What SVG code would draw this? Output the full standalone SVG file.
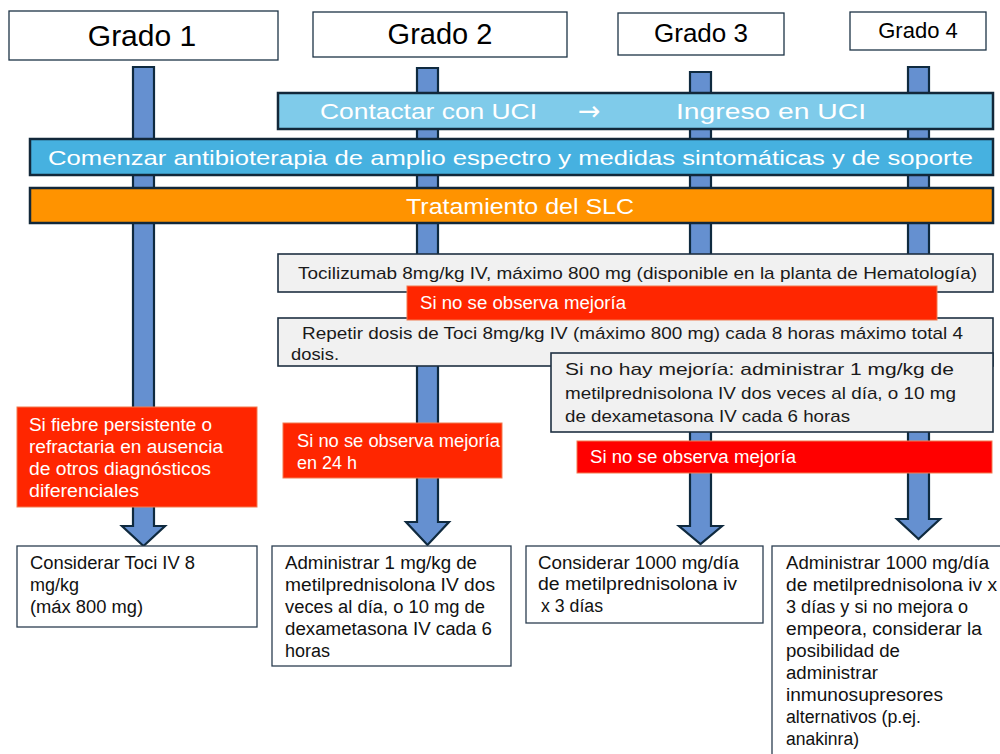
<svg xmlns="http://www.w3.org/2000/svg" width="1000" height="754" viewBox="0 0 1000 754">
  <style>
    text { font-family: "Liberation Sans", Arial, sans-serif; }
    .hdr { fill: #ffffff; stroke: #1d3346; stroke-width: 1.3; }
    .hdrt { fill: #000000; text-anchor: middle; }
    .bar { stroke: #12283a; stroke-width: 2.5; }
    .wt { fill: #ffffff; }
    .grey { fill: #f1f1f1; stroke: #1e3042; stroke-width: 1.6; }
    .dk { fill: #1a1a1a; font-size: 17px; }
    .red { fill: #ff2600; stroke: #f27a50; stroke-width: 1; }
    .redt { fill: #ffffff; font-size: 18px; }
    .out { fill: #ffffff; stroke: #2c3e50; stroke-width: 1.3; }
    .outt { fill: #111111; font-size: 18px; }
    .arrow { fill: #6590d0; stroke: #0f2a3f; stroke-width: 2.2; stroke-linejoin: miter; }
  </style>

  <!-- Block arrows running down each grade column -->
  <g id="connectors">
    <path class="arrow" d="M133,67 H154 V526 H165 L143.5,546 L122,526 H133 Z"/>
    <path class="arrow" d="M417,68 H438 V522 H449 L427.5,545 L406,522 H417 Z"/>
    <path class="arrow" d="M690,72 H711 V526 H722 L700.5,544 L679,526 H690 Z"/>
    <path class="arrow" d="M908,67 H929 V519 H940 L918.5,539 L897,519 H908 Z"/>
  </g>

  <!-- Grade headers -->
  <g id="grado1">
    <rect class="hdr" x="9" y="11" width="269" height="49"/>
    <text class="hdrt" x="142" y="46" font-size="30">Grado 1</text>
  </g>
  <g id="grado2">
    <rect class="hdr" x="313" y="12" width="254" height="45"/>
    <text class="hdrt" x="440" y="44" font-size="29">Grado 2</text>
  </g>
  <g id="grado3">
    <rect class="hdr" x="618" y="13" width="166" height="42"/>
    <text class="hdrt" x="701" y="42" font-size="26">Grado 3</text>
  </g>
  <g id="grado4">
    <rect class="hdr" x="850" y="12" width="136" height="38"/>
    <text class="hdrt" x="918" y="38" font-size="22">Grado 4</text>
  </g>

  <!-- Horizontal measure bars -->
  <g id="uci">
    <rect class="bar" x="278" y="93" width="715" height="36" fill="#7fcbea"/>
    <text class="wt" x="320" y="119" font-size="22" textLength="217" lengthAdjust="spacingAndGlyphs">Contactar con  UCI</text>
    <text class="wt" x="578" y="120" font-size="27" style="font-family: 'DejaVu Sans', sans-serif">→</text>
    <text class="wt" x="676" y="119" font-size="22" textLength="190" lengthAdjust="spacingAndGlyphs">Ingreso  en UCI</text>
  </g>
  <g id="antibioterapia">
    <rect class="bar" x="30" y="139" width="963" height="36" fill="#46b1e0"/>
    <text class="wt" x="48" y="165" font-size="21" textLength="925" lengthAdjust="spacingAndGlyphs">Comenzar antibioterapia de amplio espectro y medidas sintomáticas y de soporte</text>
  </g>
  <g id="tratamiento">
    <rect class="bar" x="30" y="188" width="963" height="35" fill="#ff9300"/>
    <text class="wt" x="406" y="214" font-size="22" textLength="228" lengthAdjust="spacingAndGlyphs">Tratamiento del SLC</text>
  </g>

  <!-- Tocilizumab sequence -->
  <g id="tocilizumab">
    <rect class="grey" x="278" y="254" width="715" height="38"/>
    <text class="dk" x="298" y="279" textLength="679" lengthAdjust="spacingAndGlyphs">Tocilizumab 8mg/kg IV, máximo 800 mg (disponible en la planta de Hematología)</text>
  </g>
  <g id="repetir">
    <rect class="grey" x="278" y="318" width="715" height="48"/>
    <text class="dk" x="302" y="339" textLength="661" lengthAdjust="spacingAndGlyphs">Repetir dosis de Toci 8mg/kg IV (máximo 800 mg) cada 8 horas máximo total  4</text>
    <text class="dk" x="291" y="360" textLength="48" lengthAdjust="spacingAndGlyphs">dosis.</text>
  </g>
  <g id="mejoria-toci">
    <rect class="red" x="407" y="286" width="530" height="34"/>
    <text class="redt" x="420" y="309" font-size="17" textLength="206" lengthAdjust="spacingAndGlyphs">Si no se observa mejoría</text>
  </g>
  <g id="corticoides">
    <rect class="grey" x="551" y="353" width="442" height="79"/>
    <text class="dk" x="565" y="375" textLength="389" lengthAdjust="spacingAndGlyphs">Si no hay mejoría: administrar 1 mg/kg de</text>
    <text class="dk" x="565" y="399" textLength="391" lengthAdjust="spacingAndGlyphs">metilprednisolona IV dos veces al día, o 10 mg</text>
    <text class="dk" x="565" y="422" textLength="285" lengthAdjust="spacingAndGlyphs">de dexametasona IV cada 6 horas</text>
  </g>

  <!-- Conditions -->
  <g id="cond-g1">
    <rect class="red" x="17" y="407" width="240" height="100"/>
    <text class="redt" x="29" y="431" textLength="183" lengthAdjust="spacingAndGlyphs">Si fiebre persistente o</text>
    <text class="redt" x="29" y="453" textLength="194" lengthAdjust="spacingAndGlyphs">refractaria en ausencia</text>
    <text class="redt" x="29" y="475" textLength="182" lengthAdjust="spacingAndGlyphs">de otros diagnósticos</text>
    <text class="redt" x="29" y="497" textLength="110" lengthAdjust="spacingAndGlyphs">diferenciales</text>
  </g>
  <g id="cond-g2">
    <rect class="red" x="283" y="423" width="219" height="55"/>
    <text class="redt" x="297" y="447" textLength="203" lengthAdjust="spacingAndGlyphs">Si no se observa mejoría</text>
    <text class="redt" x="297" y="469">en 24 h</text>
  </g>
  <g id="cond-g34">
    <rect x="577" y="441" width="415" height="32" fill="#ff0000" stroke="#f27a50" stroke-width="1"/>
    <text class="redt" x="590" y="463" textLength="206" lengthAdjust="spacingAndGlyphs">Si no se observa mejoría</text>
  </g>

  <!-- Final actions per grade -->
  <g id="accion-g1">
    <rect class="out" x="17" y="546" width="240" height="81"/>
    <text class="outt" x="30" y="569" textLength="165" lengthAdjust="spacingAndGlyphs">Considerar Toci IV 8</text>
    <text class="outt" x="30" y="591">mg/kg</text>
    <text class="outt" x="30" y="613" textLength="113" lengthAdjust="spacingAndGlyphs">(máx 800 mg)</text>
  </g>
  <g id="accion-g2">
    <rect class="out" x="272" y="546" width="239" height="120"/>
    <text class="outt" x="285" y="569" textLength="192" lengthAdjust="spacingAndGlyphs">Administrar 1 mg/kg de</text>
    <text class="outt" x="285" y="591" textLength="210" lengthAdjust="spacingAndGlyphs">metilprednisolona IV dos</text>
    <text class="outt" x="285" y="613" textLength="200" lengthAdjust="spacingAndGlyphs">veces al día, o 10 mg de</text>
    <text class="outt" x="285" y="635" textLength="207" lengthAdjust="spacingAndGlyphs">dexametasona IV cada 6</text>
    <text class="outt" x="285" y="657">horas</text>
  </g>
  <g id="accion-g3">
    <rect class="out" x="526" y="546" width="237" height="77"/>
    <text class="outt" x="538" y="569" textLength="201" lengthAdjust="spacingAndGlyphs">Considerar 1000 mg/día</text>
    <text class="outt" x="538" y="590" textLength="199" lengthAdjust="spacingAndGlyphs">de metilprednisolona iv</text>
    <text class="outt" x="541" y="612" textLength="62" lengthAdjust="spacingAndGlyphs">x 3 días</text>
  </g>
  <g id="accion-g4">
    <rect class="out" x="772" y="546" width="240" height="220"/>
    <text class="outt" x="786" y="569" textLength="203" lengthAdjust="spacingAndGlyphs">Administrar 1000 mg/día</text>
    <text class="outt" x="786" y="591" textLength="211" lengthAdjust="spacingAndGlyphs">de metilprednisolona iv x</text>
    <text class="outt" x="786" y="613" textLength="182" lengthAdjust="spacingAndGlyphs">3 días y si no mejora o</text>
    <text class="outt" x="786" y="635" textLength="196" lengthAdjust="spacingAndGlyphs">empeora, considerar la</text>
    <text class="outt" x="786" y="657" textLength="114" lengthAdjust="spacingAndGlyphs">posibilidad de</text>
    <text class="outt" x="786" y="679" textLength="92" lengthAdjust="spacingAndGlyphs">administrar</text>
    <text class="outt" x="786" y="701" textLength="157" lengthAdjust="spacingAndGlyphs">inmunosupresores</text>
    <text class="outt" x="786" y="723" textLength="135" lengthAdjust="spacingAndGlyphs">alternativos (p.ej.</text>
    <text class="outt" x="786" y="745" textLength="73" lengthAdjust="spacingAndGlyphs">anakinra)</text>
  </g>
</svg>
